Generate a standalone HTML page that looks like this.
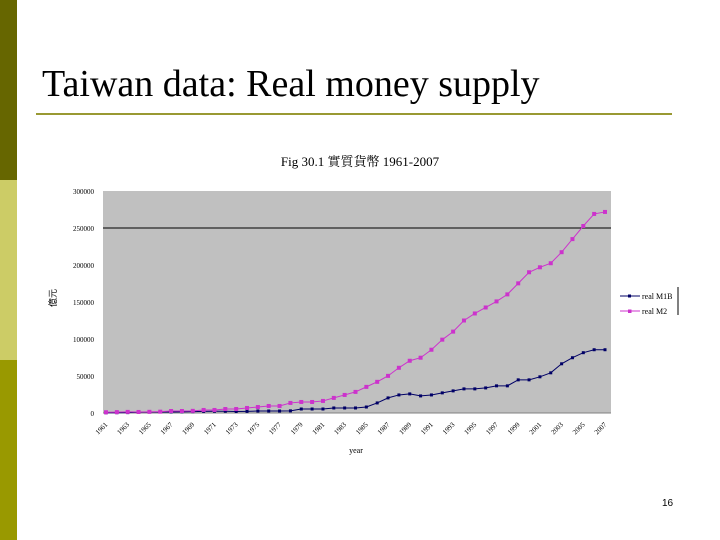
<!DOCTYPE html>
<html><head><meta charset="utf-8"><style>
body{margin:0;width:720px;height:540px;background:#fff;overflow:hidden;position:relative;font-family:"Liberation Serif","Noto Serif CJK SC",serif}
.s{position:absolute;left:0;width:17px}
</style></head><body>
<div class="s" style="top:0;height:180px;background:#666600"></div>
<div class="s" style="top:180px;height:180px;background:#cccc66"></div>
<div class="s" style="top:360px;height:180px;background:#999900"></div>
<div style="position:absolute;left:42px;top:62px;font-size:38px;color:#000;white-space:nowrap">Taiwan data: Real money supply</div>
<div style="position:absolute;left:36px;top:113px;width:636px;height:2px;background:#999933"></div>
<svg width="720" height="540" style="position:absolute;left:0;top:0" xmlns="http://www.w3.org/2000/svg">
<text x="360" y="166" text-anchor="middle" font-size="13" font-family="Liberation Serif,Noto Serif CJK TC,serif">Fig 30.1 實質貨幣 1961-2007</text>
<rect x="103" y="191" width="508" height="222" fill="#c0c0c0"/>
<g id="g"></g>
<text x="56" y="298" font-size="9" text-anchor="middle" transform="rotate(-90 56 298)" font-family="Noto Sans CJK TC,sans-serif">億元</text>
<text x="356" y="453" font-size="8" text-anchor="middle" font-family="Liberation Serif,serif">year</text>
<g>
<line x1="620" y1="296" x2="640" y2="296" stroke="#000066" stroke-width="1"/><rect x="628" y="294.5" width="3" height="3" fill="#000066"/>
<text x="642" y="299" font-size="8" font-family="Liberation Serif,serif">real M1B</text>
<line x1="620" y1="311" x2="640" y2="311" stroke="#cc33cc" stroke-width="1"/><rect x="628" y="309.5" width="3.5" height="3.5" fill="#cc33cc"/>
<text x="642" y="314" font-size="8" font-family="Liberation Serif,serif">real M2</text>
<line x1="678" y1="287" x2="678" y2="315" stroke="#000" stroke-width="1"/>
</g>
</svg>
<div style="position:absolute;left:662px;top:498px;font-size:10px;font-family:'Liberation Sans',sans-serif">16</div>
<script>
const years=[];for(let y=1961;y<=2007;y++)years.push(y);
const m1b=[0.3,0.4,0.5,1.0,1.2,1.4,1.4,1.6,1.8,2.2,2.4,2.4,2.0,2.2,2.7,2.7,2.7,2.9,5.4,5.4,5.4,6.8,6.8,6.8,8.1,13.6,20.4,24.4,25.8,23.1,24.4,27.2,29.9,32.6,32.6,33.9,36.7,36.7,44.8,44.8,48.9,54.3,66.5,74.7,81.5,85.5,85.5];
const m2=[1.0,1.2,1.5,1.4,1.6,1.8,2.7,2.7,2.9,4.1,4.1,5.4,5.4,6.8,8.1,9.5,9.5,13.6,14.9,14.9,16.3,20.4,24.4,28.5,35.3,42.1,50.2,61.1,70.6,74.7,85.5,99.1,110,125,134.5,142.6,150.8,160.3,175.2,190.2,196.9,202.4,217.3,235,252.7,269,271.7];
const yTicks=[0,50000,100000,150000,200000,250000,300000];
const X0=103,X1=611,Y0=413,Y1=191;
const xs=i=>106+i*(605-106)/(years.length-1);
const ys=v=>Y0-(v*1000)/300000*(Y0-Y1);
const yv=v=>Y0-v/300000*(Y0-Y1);
const NS="http://www.w3.org/2000/svg",g=document.getElementById('g');
function mk(t,a){const e=document.createElementNS(NS,t);for(const k in a)e.setAttribute(k,a[k]);g.appendChild(e);return e;}
yTicks.forEach(t=>{
 const tx=mk('text',{x:94,y:yv(t)+3,'font-size':7,'text-anchor':'end','font-family':'Liberation Serif,serif'});tx.textContent=t;
 
 
});
const gl=mk('line',{x1:X0,x2:X1,y1:yv(250000),y2:yv(250000),stroke:'#000','stroke-width':1});


const ax=mk('line',{x1:X0,x2:X1,y1:Y0,y2:Y0,stroke:'#808080','stroke-width':1});


years.forEach((y,i)=>{
 if(i%2)return;
 const x=xs(i);
 const t=mk('text',{x:x+2,y:Y0+12,'font-size':7,'text-anchor':'end','font-family':'Liberation Serif,serif',transform:`rotate(-45 ${x+2} ${Y0+12})`});t.textContent=y;
 
 
});
function series(d,col,name,sz){
 const p=mk('polyline',{points:d.map((v,i)=>xs(i)+','+ys(v)).join(' '),fill:'none',stroke:col,'stroke-width':1});
 
 
 d.forEach((v,i)=>{const r=mk('rect',{x:xs(i)-sz/2,y:ys(v)-sz/2,width:sz,height:sz,fill:col});
 
 });
}
series(m1b,'#000066','real-m1b',3);
series(m2,'#cc33cc','real-m2',4);
</script>
</body></html>
